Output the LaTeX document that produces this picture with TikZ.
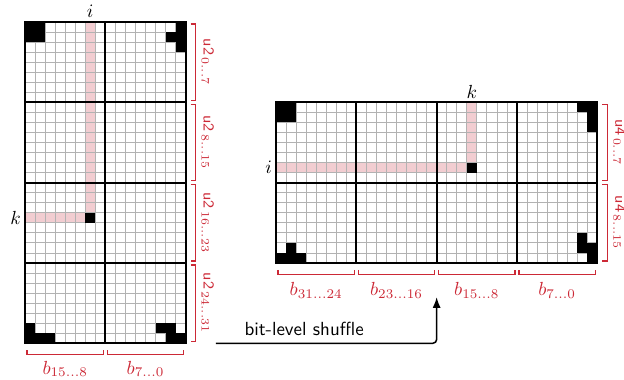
\documentclass[tikz,border=0pt]{standalone}
\usepackage{tikz}
\usetikzlibrary{arrows.meta, positioning, calc}
\definecolor{bitred}{HTML}{CC2936}
\definecolor{bitpink}{HTML}{F2CDD1}

\begin{document}
\begin{tikzpicture}[
    x=0.186cm, y=0.186cm,
    thingrid/.style={gray!60, line width=0.4pt},
    thickgrid/.style={black, line width=1pt},
    bit/.style={fill=black},
    hilite/.style={fill=bitpink},
    bracket/.style={bitred, line width=0.6pt},
    blabel/.style={text=bitred, inner sep=1pt},
    ulabel/.style={text=bitred, rotate=-90, inner sep=1pt, font=\footnotesize},
    idx/.style={inner sep=2pt},
    arrow/.style={-{Latex[length=2mm]}, thick, rounded corners=2pt}
]
\useasboundingbox (-2.49,2.19) rectangle (59.66,-35.56);

% left matrix, 16 x 32
\fill[hilite] (6,0) rectangle (7,-19);
\fill[hilite] (0,-19) rectangle (6,-20);
\draw[thingrid, step=0.186cm] (0,0) grid (16,-32);
\foreach \c/\r in {0/0,1/0,0/1,1/1,15/0,14/1,15/1,15/2,6/19,0/30,0/31,1/31,2/31,13/30,14/30,14/31,15/31}
    \fill[bit] (\c,-\r) rectangle ++(1,-1);
\draw[thickgrid] (8,0) -- (8,-32);
\foreach \y in {8,16,24} \draw[thickgrid] (0,-\y) -- (16,-\y);
\draw[thickgrid] (0,0) rectangle (16,-32);

\node[idx, anchor=south] (li) at (6.5,0) {$i$};
\node[idx, anchor=east] (lk) at (0,-19.5) {$k$};

\foreach \lo/\hi [count=\j from 0] in {0/7,8/15,16/23,24/31} {
    \draw[bracket] (16.5,{-8*\j-0.2}) -- (17,{-8*\j-0.2}) -- (17,{-8*\j-7.8}) -- (16.5,{-8*\j-7.8});
    \node[ulabel] (lu\j) at (18.2,{-8*\j-4}) {\textsf{u2}\,$_{\lo\ldots\hi}$};
}
\foreach \hi/\lo [count=\j from 0] in {15/8,7/0} {
    \draw[bracket] ({8*\j+0.2},-32.7) -- ({8*\j+0.2},-33.15) -- ({8*\j+7.8},-33.15) -- ({8*\j+7.8},-32.7);
    \node[blabel] (lb\j) at ({8*\j+4},-34.55) {$b_{\hi\ldots\lo}$};
}

% right matrix, 32 x 16
\begin{scope}[shift={(25,-8)}]
\fill[hilite] (0,-6) rectangle (19,-7);
\fill[hilite] (19,0) rectangle (20,-6);
\draw[thingrid, step=0.186cm] (0,0) grid (32,-16);
\foreach \c/\r in {0/0,1/0,0/1,1/1,30/0,31/0,31/1,31/2,19/6,0/15,1/15,2/15,1/14,30/13,30/14,31/14,31/15}
    \fill[bit] (\c,-\r) rectangle ++(1,-1);
\foreach \x in {8,16,24} \draw[thickgrid] (\x,0) -- (\x,-16);
\draw[thickgrid] (0,-8) -- (32,-8);
\draw[thickgrid] (0,0) rectangle (32,-16);

\node[idx, anchor=south] (rk) at (19.5,0) {$k$};
\node[idx, anchor=east] (ri) at (0,-6.5) {$i$};

\foreach \lo/\hi [count=\j from 0] in {0/7,8/15} {
    \draw[bracket] (32.5,{-8*\j-0.2}) -- (33,{-8*\j-0.2}) -- (33,{-8*\j-7.8}) -- (32.5,{-8*\j-7.8});
    \node[ulabel] (ru\j) at (34.2,{-8*\j-4}) {\textsf{u4}\,$_{\lo\ldots\hi}$};
}
\foreach \hi/\lo [count=\j from 0] in {31/24,23/16,15/8,7/0} {
    \draw[bracket] ({8*\j+0.2},-16.7) -- ({8*\j+0.2},-17.15) -- ({8*\j+7.8},-17.15) -- ({8*\j+7.8},-16.7);
    \node[blabel] (rb\j) at ({8*\j+4},-18.7) {$b_{\hi\ldots\lo}$};
}
\coordinate (shufend) at (16,-19.4);
\end{scope}

\coordinate (shufstart) at (19,-32);
\draw[arrow] (shufstart) -| node[pos=0.2, above, font=\sffamily] (shuf) {bit-level shuffle} (shufend);

\end{tikzpicture}
\end{document}
